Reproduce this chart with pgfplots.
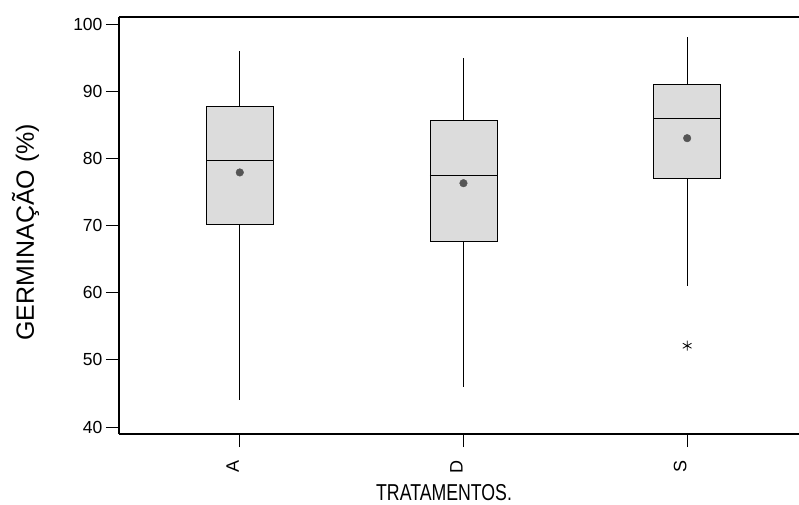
\documentclass[border=0pt]{standalone}
\usepackage{fontspec}
\setmainfont{Liberation Sans}
\usepackage{pgfplots}
\pgfplotsset{compat=1.18}
\usepgfplotslibrary{statistics}
\definecolor{boxfill}{RGB}{220,220,220}
\definecolor{meandot}{RGB}{85,85,85}
\begin{document}
\begin{tikzpicture}
\useasboundingbox (-119pt,-70pt) rectangle (680pt,434pt);
\begin{axis}[
  at={(0,0)}, anchor=south west,
  scale only axis, width=680pt, height=417pt,
  xmin=0.46, xmax=3.5, ymin=38.96, ymax=101.04,
  axis x line=box, axis y line=left,
  axis line style={line width=1.1pt, -},
  xtick={1,2,3}, xticklabels={A,D,S}, xtick pos=bottom,
  ytick={40,50,60,70,80,90,100},
  yticklabels={40,50,60,70,80,90,100},
  ytick pos=left,
  tick align=outside,
  major tick length=13pt,
  tick style={line width=0.8pt, black},
  x tick label style={rotate=90, anchor=east, xshift=-10pt, yshift=7pt, font=\fontsize{18}{20}\selectfont},
  y tick label style={font=\fontsize{17.5}{20}\selectfont},
  xlabel={\fontsize{23}{26}\selectfont\scalebox{0.77}[1]{TRATAMENTOS.}},
  xlabel style={at={(rel axis cs:0.478,0)}, anchor=base, yshift=-66pt},
  ylabel={\fontsize{25}{28}\selectfont GERMINAÇÃO (\%)},
  ylabel style={at={(rel axis cs:0,0.484)}, anchor=base, yshift=85pt},
  clip=false,
  boxplot/draw direction=y,
  boxplot/box extend=0.3,
  boxplot/whisker extend=0,
]
\addplot[black, line width=0.8pt, fill=boxfill, mark=asterisk, mark size=5pt, mark options={solid,line width=0.8pt},
  boxplot prepared={draw position=1, lower whisker=44, lower quartile=70.2, median=79.7, upper quartile=87.7, upper whisker=96}]
  coordinates {};
\addplot[black, line width=0.8pt, fill=boxfill, mark=asterisk, mark size=5pt, mark options={solid,line width=0.8pt},
  boxplot prepared={draw position=2, lower whisker=46, lower quartile=67.6, median=77.5, upper quartile=85.7, upper whisker=95}]
  coordinates {};
\addplot[black, line width=0.8pt, fill=boxfill, mark=asterisk, mark size=5pt, mark options={solid,line width=0.8pt},
  boxplot prepared={draw position=3, lower whisker=61, lower quartile=77.0, median=85.9, upper quartile=91.0, upper whisker=98}]
  table[row sep=\\, y index=0] {y\\ 52.1\\};
\addplot[only marks, mark=*, mark size=3.8pt, color=meandot, mark options={fill=meandot, draw=meandot}]
  coordinates {(1,77.9) (2,76.3) (3,83.0)};
\end{axis}
\end{tikzpicture}
\end{document}
